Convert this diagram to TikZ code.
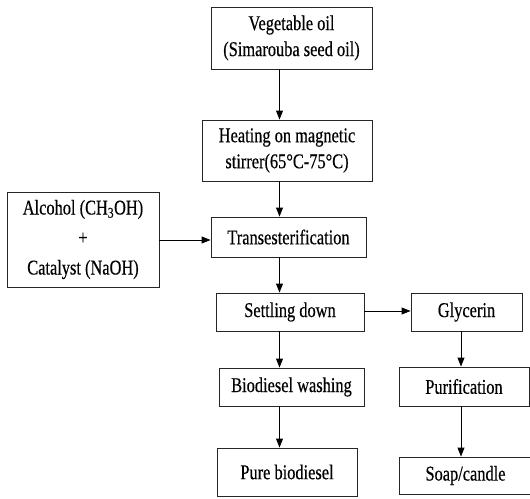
\documentclass[tikz,border=0pt]{standalone}
\usepackage{fontspec}
\setmainfont{Liberation Serif}[FakeStretch=0.78,FakeBold=0.4]
\usetikzlibrary{arrows.meta}
\begin{document}
\begin{tikzpicture}[x=1pt,y=-1pt,
  box/.style={draw=black!85,line width=0.9pt,align=center,inner sep=0pt,
    font=\fontsize{21}{26}\selectfont},
  arr/.style={draw=black,line width=0.9pt,-{Triangle[length=9pt,width=7pt]}}]
\useasboundingbox (0,0) rectangle (530,498);
\node[box,minimum width=161pt,minimum height=62pt] (veg) at (291.5,38) {Vegetable oil\\(Simarouba seed oil)};
\node[box,minimum width=170pt,minimum height=61pt] (heat) at (287,150.5) {Heating on magnetic\\stirrer(65°C-75°C)};
\node[box,minimum width=155pt,minimum height=40pt] (trans) at (288.5,237) {Transesterification};
\node[box,minimum width=152pt,minimum height=95pt,font=\fontsize{21}{30}\selectfont] (alc) at (83,239.5) {Alcohol (CH\textsubscript{3}OH)\\+\\Catalyst (NaOH)};
\node[box,minimum width=148pt,minimum height=38pt] (settle) at (290,312) {Settling down};
\node[box,minimum width=111pt,minimum height=38pt] (glyc) at (466.5,312) {Glycerin};
\node[box,minimum width=145pt,minimum height=38pt] (wash) at (291.5,387) {Biodiesel washing};
\node[box,minimum width=130pt,minimum height=39pt] (puri) at (464,386.5) {Purification};
\node[box,minimum width=140pt,minimum height=48pt] (pure) at (287,472) {Pure biodiesel};
\node[box,minimum width=133pt,minimum height=37pt] (soap) at (465.5,475.5) {Soap/candle};
\coordinate (cx) at (279.5,0);
\coordinate (gx) at (461,0);
\coordinate (ay) at (0,240);
\coordinate (sy) at (0,311);
\draw[arr] (veg.south -| cx) -- (heat.north -| cx);
\draw[arr] (heat.south -| cx) -- (trans.north -| cx);
\draw[arr] (trans.south -| cx) -- (settle.north -| cx);
\draw[arr] (settle.south -| cx) -- (wash.north -| cx);
\draw[arr] (wash.south -| cx) -- (pure.north -| cx);
\draw[arr] (alc.east |- ay) -- (trans.west |- ay);
\draw[arr] (settle.east |- sy) -- (glyc.west |- sy);
\draw[arr] (glyc.south -| gx) -- (puri.north -| gx);
\draw[arr] (puri.south -| gx) -- (soap.north -| gx);
\end{tikzpicture}
\end{document}
